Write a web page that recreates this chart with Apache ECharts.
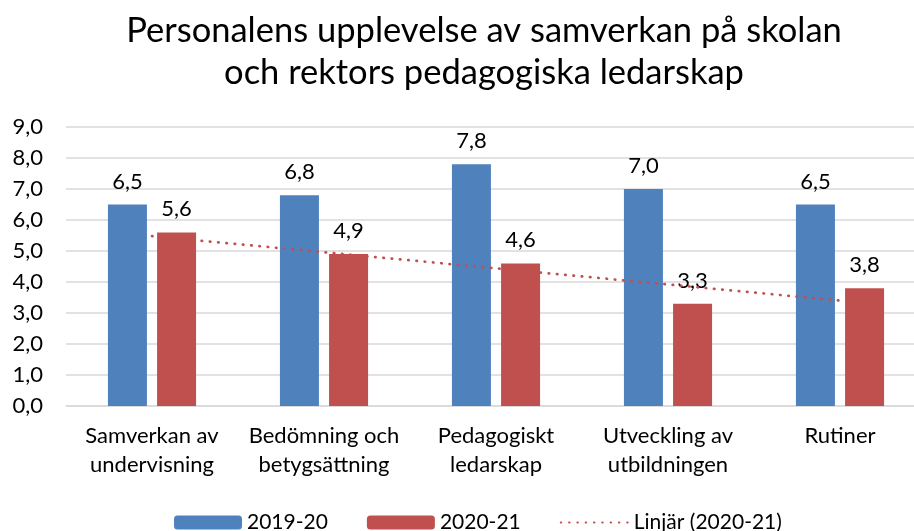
<!DOCTYPE html>
<html>
<head>
<meta charset="utf-8">
<script src="https://cdn.jsdelivr.net/npm/echarts@6/dist/echarts.min.js"></script>
<style>
  html, body { margin: 0; padding: 0; background: #fff; overflow: hidden; }
  /* lite bredare än fönstret: i originalet går sista kategorin ut förbi kanten */
  #chart { width: 926px; height: 531px; }
</style>
</head>
<body>
<div id="chart"></div>
<script>
// kategorier och värden
const categories = ['Samverkan av\nundervisning', 'Bedömning och\nbetygsättning', 'Pedagogiskt\nledarskap', 'Utveckling av\nutbildningen', 'Rutiner'];
const values2019 = [6.5, 6.8, 7.8, 7.0, 6.5];
const values2020 = [5.6, 4.9, 4.6, 3.3, 3.8];
// linjär trendlinje (2020-21), ändpunkter
const trendValues = [5.48, null, null, null, 3.40];
const yTicks = { min: 0, max: 9, interval: 1 };

const font = 'Lato, Calibri, sans-serif';
const fmt = v => v.toFixed(1).replace('.', ',');

const myChart = echarts.init(document.getElementById('chart'));
const option = {
  animation: false,
  title: {
    text: 'Personalens upplevelse av samverkan på skolan\noch rektors pedagogiska ledarskap',
    left: 479,
    top: 5,
    textAlign: 'center',
    textStyle: { fontFamily: font, fontSize: 34.5, fontWeight: 'normal', color: '#000', lineHeight: 42 }
  },
  legend: {
    left: 169,
    top: 507,
    itemWidth: 68,
    itemHeight: 14,
    itemGap: 39,
    textStyle: { fontFamily: font, fontSize: 21, color: '#000' },
    data: ['2019-20', '2020-21', { name: 'Linjär (2020-21)', itemStyle: { opacity: 0 } }]
  },
  grid: { left: 66, right: 0, top: 127, bottom: 125 },
  xAxis: {
    type: 'category',
    data: categories,
    axisTick: { show: false },
    axisLine: { show: true, lineStyle: { color: '#D9D9D9', width: 1.5 } },
    axisLabel: { fontFamily: font, fontSize: 22, color: '#000', lineHeight: 29, margin: 15, interval: 0 }
  },
  yAxis: {
    type: 'value',
    min: yTicks.min,
    max: yTicks.max,
    interval: yTicks.interval,
    axisLabel: { fontFamily: font, fontSize: 22, color: '#000', margin: 23, formatter: fmt },
    splitLine: { lineStyle: { color: '#D9D9D9', width: 1.5 } }
  },
  series: [
    {
      name: '2019-20',
      type: 'bar',
      data: values2019,
      barWidth: 39,
      barGap: '26%',
      itemStyle: { color: '#4F81BD' },
      label: { show: true, position: 'top', distance: 12, fontFamily: font, fontSize: 22, color: '#000', formatter: p => fmt(p.value) }
    },
    {
      name: '2020-21',
      type: 'bar',
      data: values2020,
      barWidth: 39,
      itemStyle: { color: '#C0504D' },
      label: { show: true, position: 'top', distance: 12, fontFamily: font, fontSize: 22, color: '#000', formatter: p => fmt(p.value) }
    },
    {
      name: 'Linjär (2020-21)',
      type: 'line',
      data: trendValues,
      connectNulls: true,
      symbol: 'none',
      z: 5,
      itemStyle: { color: '#C0504D' },
      lineStyle: { color: '#C0504D', width: 2.7, type: [0.5, 7.8], cap: 'round' }
    }
  ]
};
myChart.setOption(option);
window.onresize = myChart.resize;
</script>
</body>
</html>
